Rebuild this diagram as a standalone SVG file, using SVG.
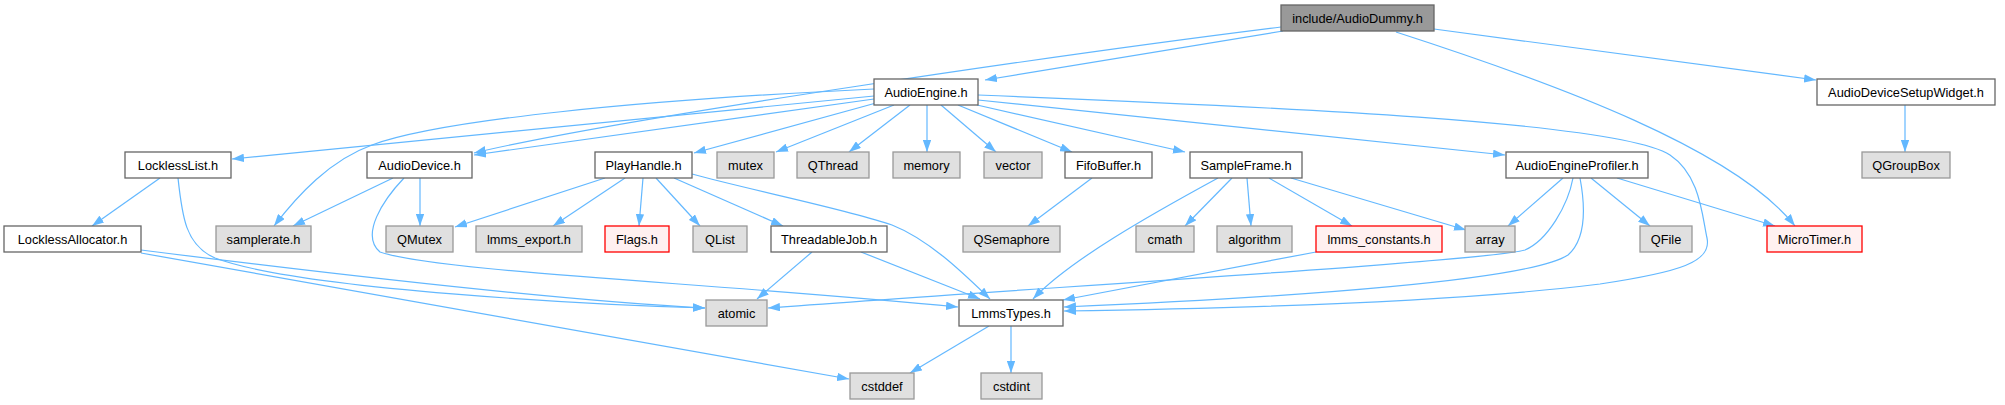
<svg xmlns="http://www.w3.org/2000/svg" width="2005" height="405" viewBox="0 0 2005 405">
<defs>
<marker id="ah" viewBox="0 0 10 7" refX="10" refY="3.5" markerWidth="12" markerHeight="8.5" markerUnits="userSpaceOnUse" orient="auto">
<polygon points="0,0 10,3.5 0,7" fill="#63b8ff"/>
</marker>
</defs>
<style>
text{font-family:"Liberation Sans",Arial,sans-serif;font-size:12.8px;text-anchor:middle;fill:#000}
.w{fill:#fff;stroke:#666;stroke-width:1.3}
.g{fill:#e0e0e0;stroke:#999;stroke-width:1.3}
.r{fill:#fff0f0;stroke:#f00;stroke-width:1.3}
.root{fill:#999;stroke:#666;stroke-width:1.3}
#edges path{fill:none;stroke:#63b8ff;stroke-width:1.2;marker-end:url(#ah)}
</style>
<rect width="2005" height="405" fill="#fff"/>
<g id="edges">
<path d="M1283,31 L985,80"/>
<path d="M1281,27 C1080,52 620,118 474,153"/>
<path d="M1434,29 L1816,80"/>
<path d="M1396,32 C1560,85 1735,150 1795,226"/>
<path d="M874,96 L232,159"/>
<path d="M874,89 C640,100 440,120 372,145 C330,160 298,195 274,226"/>
<path d="M874,99 L474,155"/>
<path d="M876,103 L694,153"/>
<path d="M894,105 L776,152"/>
<path d="M910,105 L849,152"/>
<path d="M927,105 L927,152"/>
<path d="M941,105 L996,152"/>
<path d="M958,105 L1072,152"/>
<path d="M977,105 L1185,152"/>
<path d="M978,100 L1505,155"/>
<path d="M978,95 C1280,107 1620,122 1670,155 C1700,175 1702,215 1707,238 C1712,262 1680,272 1600,284 C1450,303 1200,309 1064,311"/>
<path d="M1563,178 L1508,226"/>
<path d="M1573,178 C1568,205 1548,240 1525,250 C1480,262 1000,290 768,308"/>
<path d="M1580,178 C1586,210 1585,240 1568,255 C1530,280 1300,297 1064,307"/>
<path d="M1591,178 L1650,226"/>
<path d="M1617,178 L1775,226"/>
<path d="M1905,105 L1905,152"/>
<path d="M160,178 L92,226"/>
<path d="M178,178 C182,215 185,245 215,258 C300,290 600,305 705,308"/>
<path d="M141,250 C300,270 550,300 705,308"/>
<path d="M141,253 L849,379"/>
<path d="M393,178 L293,226"/>
<path d="M420,178 L420,226"/>
<path d="M404,178 C383,200 360,235 380,252 C440,272 700,282 958,307"/>
<path d="M605,178 L455,227"/>
<path d="M625,178 L553,226"/>
<path d="M643,178 L639,226"/>
<path d="M656,178 L700,226"/>
<path d="M674,178 L783,226"/>
<path d="M692,174 C750,190 850,210 892,225 C930,240 965,275 990,299"/>
<path d="M812,252 L757,299"/>
<path d="M861,252 L980,299"/>
<path d="M1092,178 L1028,226"/>
<path d="M1218,178 C1150,215 1070,260 1033,299"/>
<path d="M1232,178 L1185,226"/>
<path d="M1247,178 L1251,226"/>
<path d="M1269,178 L1352,226"/>
<path d="M1291,178 L1466,230"/>
<path d="M1316,252 L1063,300"/>
<path d="M989,326 L910,373"/>
<path d="M1011,326 L1011,373"/>
</g>
<g id="n_AudioDummy"><rect class="root" x="1281" y="5" width="153" height="26"/><text x="1357.5" y="22.5">include/AudioDummy.h</text></g>
<g id="n_AudioEngine"><rect class="w" x="874" y="79" width="104" height="26"/><text x="926" y="96.5">AudioEngine.h</text></g>
<g id="n_AudioDeviceSetupWidget"><rect class="w" x="1817" y="79" width="178" height="26"/><text x="1906" y="96.5">AudioDeviceSetupWidget.h</text></g>
<g id="n_LocklessList"><rect class="w" x="125" y="152" width="106" height="26"/><text x="178" y="169.5">LocklessList.h</text></g>
<g id="n_AudioDevice"><rect class="w" x="367" y="152" width="105" height="26"/><text x="419.5" y="169.5">AudioDevice.h</text></g>
<g id="n_PlayHandle"><rect class="w" x="595" y="152" width="97" height="26"/><text x="643.5" y="169.5">PlayHandle.h</text></g>
<g id="n_mutex"><rect class="g" x="717" y="152" width="57" height="26"/><text x="745.5" y="169.5">mutex</text></g>
<g id="n_QThread"><rect class="g" x="797" y="152" width="72" height="26"/><text x="833" y="169.5">QThread</text></g>
<g id="n_memory"><rect class="g" x="893" y="152" width="67" height="26"/><text x="926.5" y="169.5">memory</text></g>
<g id="n_vector"><rect class="g" x="984" y="152" width="58" height="26"/><text x="1013" y="169.5">vector</text></g>
<g id="n_FifoBuffer"><rect class="w" x="1065" y="152" width="87" height="26"/><text x="1108.5" y="169.5">FifoBuffer.h</text></g>
<g id="n_SampleFrame"><rect class="w" x="1190" y="152" width="112" height="26"/><text x="1246" y="169.5">SampleFrame.h</text></g>
<g id="n_AudioEngineProfiler"><rect class="w" x="1506" y="152" width="142" height="26"/><text x="1577" y="169.5">AudioEngineProfiler.h</text></g>
<g id="n_QGroupBox"><rect class="g" x="1862" y="152" width="88" height="26"/><text x="1906" y="169.5">QGroupBox</text></g>
<g id="n_LocklessAllocator"><rect class="w" x="4" y="226" width="137" height="26"/><text x="72.5" y="243.5">LocklessAllocator.h</text></g>
<g id="n_samplerate"><rect class="g" x="216" y="226" width="95" height="26"/><text x="263.5" y="243.5">samplerate.h</text></g>
<g id="n_QMutex"><rect class="g" x="386" y="226" width="67" height="26"/><text x="419.5" y="243.5">QMutex</text></g>
<g id="n_lmms_export"><rect class="g" x="476" y="226" width="106" height="26"/><text x="529" y="243.5">lmms_export.h</text></g>
<g id="n_Flags"><rect class="r" x="605" y="226" width="64" height="26"/><text x="637" y="243.5">Flags.h</text></g>
<g id="n_QList"><rect class="g" x="693" y="226" width="54" height="26"/><text x="720" y="243.5">QList</text></g>
<g id="n_ThreadableJob"><rect class="w" x="771" y="226" width="116" height="26"/><text x="829" y="243.5">ThreadableJob.h</text></g>
<g id="n_QSemaphore"><rect class="g" x="963" y="226" width="97" height="26"/><text x="1011.5" y="243.5">QSemaphore</text></g>
<g id="n_cmath"><rect class="g" x="1136" y="226" width="58" height="26"/><text x="1165" y="243.5">cmath</text></g>
<g id="n_algorithm"><rect class="g" x="1217" y="226" width="75" height="26"/><text x="1254.5" y="243.5">algorithm</text></g>
<g id="n_lmms_constants"><rect class="r" x="1316" y="226" width="126" height="26"/><text x="1379" y="243.5">lmms_constants.h</text></g>
<g id="n_array"><rect class="g" x="1465" y="226" width="50" height="26"/><text x="1490" y="243.5">array</text></g>
<g id="n_QFile"><rect class="g" x="1640" y="226" width="52" height="26"/><text x="1666" y="243.5">QFile</text></g>
<g id="n_MicroTimer"><rect class="r" x="1767" y="226" width="95" height="26"/><text x="1814.5" y="243.5">MicroTimer.h</text></g>
<g id="n_atomic"><rect class="g" x="706" y="300" width="61" height="26"/><text x="736.5" y="317.5">atomic</text></g>
<g id="n_LmmsTypes"><rect class="w" x="959" y="300" width="104" height="26"/><text x="1011" y="317.5">LmmsTypes.h</text></g>
<g id="n_cstddef"><rect class="g" x="850" y="373" width="64" height="26"/><text x="882" y="390.5">cstddef</text></g>
<g id="n_cstdint"><rect class="g" x="981" y="373" width="61" height="26"/><text x="1011.5" y="390.5">cstdint</text></g>
</svg>
